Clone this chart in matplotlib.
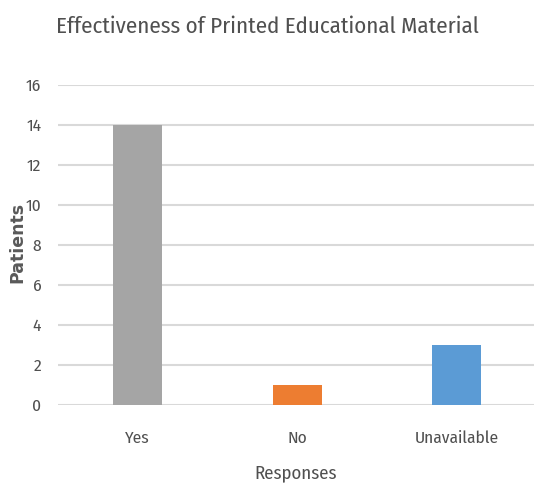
import matplotlib
matplotlib.use("Agg")
import matplotlib.pyplot as plt

# Chart data
categories = ["Yes", "No", "Unavailable"]
patients = [14, 1, 3]
bar_colors = ["#a5a5a5", "#ed7d31", "#5b9bd5"]
y_ticks = [0, 2, 4, 6, 8, 10, 12, 14, 16]

narrow = ["Fira Sans Condensed", "DejaVu Sans"]
text_color = "#595959"

fig = plt.figure(figsize=(5.34, 4.87), dpi=100)
# plot area runs off the right edge, as in the reference
ax = fig.add_axes([58 / 534, 82 / 487, 476 / 534, 320 / 487])

ax.bar(range(len(categories)), patients, width=0.31, color=bar_colors, zorder=3)

ax.set_xlim(-0.5, -0.5 + 476 / 159.5)
ax.set_ylim(0, 16)
ax.set_yticks(y_ticks)
ax.yaxis.grid(True, color="#d9d9d9", linewidth=1.5, zorder=0)
for s in ax.spines.values():
    s.set_visible(False)
ax.tick_params(length=0)
ax.tick_params(axis="y", pad=12)
ax.tick_params(axis="x", pad=18)

ax.set_xticks(range(len(categories)))
ax.set_xticklabels(categories)
for lbl in ax.get_xticklabels() + ax.get_yticklabels():
    lbl.set_family(narrow)
    lbl.set_fontsize(12.5)
    lbl.set_color("#505050")

ax.set_xlabel("Responses", family=narrow, fontsize=13.5, color="#505050", labelpad=13)
fig.text(17 / 534, 1 - 242 / 487, "Patients", rotation=90, ha="center", va="center",
         fontsize=12.5, fontweight="bold", color=text_color, family="DejaVu Sans")

fig.text(0.5, 1 - 27 / 487, "Effectiveness of Printed Educational Material",
         ha="center", va="center", family=narrow, fontsize=16.5, color="#505050")

plt.savefig("out.png", dpi=100)
